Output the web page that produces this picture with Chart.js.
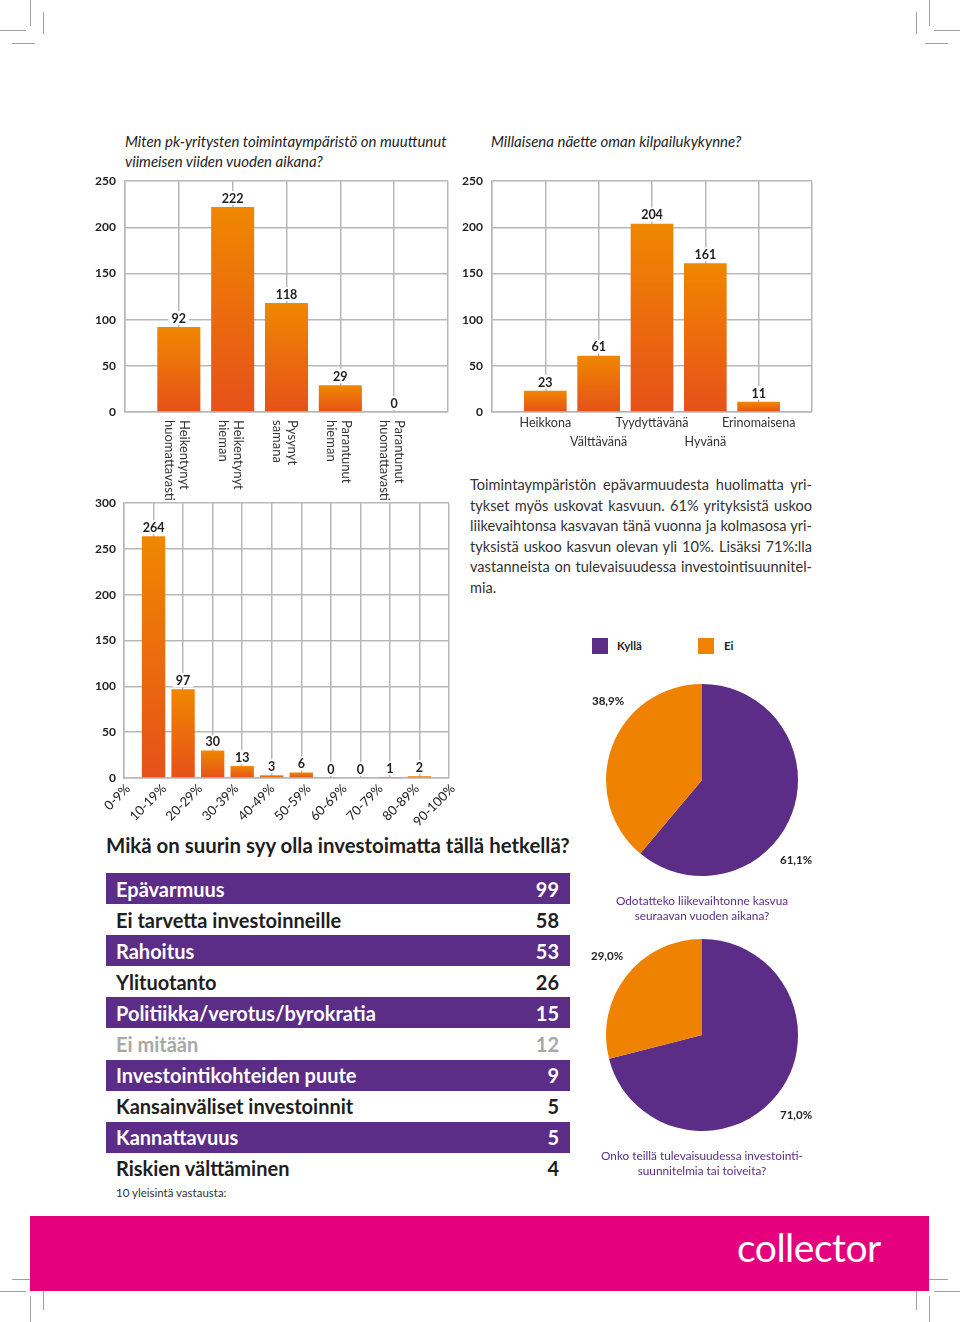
<!DOCTYPE html>
<html><head><meta charset="utf-8">
<script src="https://cdn.jsdelivr.net/npm/chart.js@4.4.1/dist/chart.umd.min.js"></script>
<style>
html,body{margin:0;padding:0}
body{width:960px;height:1322px;position:relative;background:#fff;font-family:Lato,"Noto Sans",sans-serif;color:#222;overflow:hidden}
.abs{position:absolute}
.cm{position:absolute;background:#a0a0a0}
.qtitle{position:absolute;font-style:italic;font-size:15px;line-height:20px;color:#1e1e1e}
.para{position:absolute;left:470px;top:475px;width:342px;font-size:14.6px;line-height:20.6px;color:#333}
.para span{display:block;text-align:justify;text-align-last:justify;white-space:nowrap}
.para span.last{text-align-last:left}
.pct{position:absolute;font-weight:bold;font-size:11.5px;color:#222;line-height:14px}
.cap{position:absolute;left:590px;width:224px;text-align:center;font-size:11.8px;line-height:15px;color:#5b2d86}
.leg{position:absolute;width:16px;height:16px}
.legt{position:absolute;font-weight:bold;font-size:11.5px;line-height:16px;color:#222}
#table{position:absolute;left:106px;top:873px;width:464px}
.row{height:31.1px;display:flex;align-items:center;justify-content:space-between;padding:0 11px 0 10px;font-weight:bold;font-size:20px;color:#1e1e1e;box-sizing:border-box}
.row.p{background:#5b2d86;color:#fff}
.row.g{color:#a8a8a8}
</style></head><body>

<!-- crop marks -->
<div class="cm" style="left:30px;top:0;width:1px;height:26px"></div>
<div class="cm" style="left:0;top:30px;width:26px;height:1px"></div>
<div class="cm" style="left:43px;top:12px;width:1px;height:22px"></div>
<div class="cm" style="left:12px;top:43px;width:23px;height:1px"></div>
<div class="cm" style="left:929px;top:0;width:1px;height:26px"></div>
<div class="cm" style="left:934px;top:30px;width:26px;height:1px"></div>
<div class="cm" style="left:916px;top:12px;width:1px;height:22px"></div>
<div class="cm" style="left:925px;top:43px;width:23px;height:1px"></div>
<div class="cm" style="left:30px;top:1296px;width:1px;height:26px"></div>
<div class="cm" style="left:0;top:1291px;width:26px;height:1px"></div>
<div class="cm" style="left:43px;top:1288px;width:1px;height:22px"></div>
<div class="cm" style="left:12px;top:1279px;width:23px;height:1px"></div>
<div class="cm" style="left:929px;top:1296px;width:1px;height:26px"></div>
<div class="cm" style="left:934px;top:1291px;width:26px;height:1px"></div>
<div class="cm" style="left:916px;top:1288px;width:1px;height:22px"></div>
<div class="cm" style="left:925px;top:1279px;width:23px;height:1px"></div>

<div class="qtitle" style="left:125px;top:131px">Miten pk-yritysten toimintaympäristö on muuttunut<br>viimeisen viiden vuoden aikana?</div>
<div class="qtitle" style="left:491px;top:131px">Millaisena näette oman kilpailukykynne?</div>

<div class="abs" style="left:60px;top:165px;width:400px;height:335px"><canvas id="c1"></canvas></div>
<div class="abs" style="left:430px;top:165px;width:400px;height:295px"><canvas id="c2"></canvas></div>
<div class="abs" style="left:60px;top:488px;width:410px;height:342px"><canvas id="c3"></canvas></div>

<div class="para">
<span>Toimintaympäristön epävarmuudesta huolimatta yri-</span>
<span>tykset myös uskovat kasvuun. 61% yrityksistä uskoo</span>
<span>liikevaihtonsa kasvavan tänä vuonna ja kolmasosa yri-</span>
<span>tyksistä uskoo kasvun olevan yli 10%. Lisäksi 71%:lla</span>
<span>vastanneista on tulevaisuudessa investointisuunnitel-</span>
<span class="last">mia.</span>
</div>

<div class="leg" style="left:592px;top:638px;background:#5b2d86"></div>
<div class="legt" id="leg1" style="left:617px;top:638px"></div>
<div class="leg" style="left:698px;top:638px;background:#ef8200"></div>
<div class="legt" id="leg2" style="left:724px;top:638px"></div>

<div class="abs" style="left:606px;top:684px;width:192px;height:192px"><canvas id="p1"></canvas></div>
<div class="pct" id="p1b" style="left:592px;top:694px"></div>
<div class="pct" id="p1a" style="left:780px;top:853px"></div>
<div class="cap" style="top:893px">Odotatteko liikevaihtonne kasvua<br>seuraavan vuoden aikana?</div>

<div class="abs" style="left:606px;top:939px;width:192px;height:192px"><canvas id="p2"></canvas></div>
<div class="pct" id="p2b" style="left:591px;top:949px"></div>
<div class="pct" id="p2a" style="left:780px;top:1108px"></div>
<div class="cap" style="top:1148px">Onko teillä tulevaisuudessa investointi-<br>suunnitelmia tai toiveita?</div>

<div class="abs" style="left:106px;top:833px;font-weight:bold;font-size:20.4px;line-height:24px;color:#1e1e1e">Mikä on suurin syy olla investoimatta tällä hetkellä?</div>
<div id="table"></div>
<div class="abs" style="left:116px;top:1186px;font-size:11.5px;line-height:14px;color:#333">10 yleisintä vastausta:</div>

<div class="abs" style="left:30px;top:1216px;width:899px;height:75px;background:#e5007e"></div>
<div class="abs" style="left:737px;top:1225px;font-size:39px;line-height:44px;color:#fff;letter-spacing:-0.5px">collector</div>

<script>
// ---------- data ----------
const changeCategories = [['Heikentynyt','huomattavasti'],['Heikentynyt','hieman'],['Pysynyt','samana'],['Parantunut','hieman'],['Parantunut','huomattavasti']];
const changeValues = [92, 222, 118, 29, 0];
const changeAxis = {max: 250, step: 50};

const compCategories = ['Heikkona','Välttävänä','Tyydyttävänä','Hyvänä','Erinomaisena'];
const compValues = [23, 61, 204, 161, 11];
const compAxis = {max: 250, step: 50};

const growthBins = ['0-9%','10-19%','20-29%','30-39%','40-49%','50-59%','60-69%','70-79%','80-89%','90-100%'];
const growthValues = [264, 97, 30, 13, 3, 6, 0, 0, 1, 2];
const growthAxis = {max: 300, step: 50};

const pieLabels = ['Kyllä','Ei'];
const growthExpectValues = [61.1, 38.9];
const investPlanValues = [71.0, 29.0];

const reasons = ['Epävarmuus','Ei tarvetta investoinneille','Rahoitus','Ylituotanto','Politiikka/verotus/byrokratia','Ei mitään','Investointikohteiden puute','Kansainväliset investoinnit','Kannattavuus','Riskien välttäminen'];
const reasonCounts = [99, 58, 53, 26, 15, 12, 9, 5, 5, 4];

// ---------- styles ----------
const PURPLE = '#5b2d86', ORANGE = '#ef8200', GRID = '#b8b8b8';
Chart.defaults.font.family = 'Lato, "Noto Sans", sans-serif';
Chart.defaults.animation = false;
Chart.defaults.plugins.legend.display = false;
Chart.defaults.plugins.tooltip.enabled = false;

function pad(arr, blank){ return [blank, ...arr, blank]; }

function barGradient(c){
  const chart = c.chart, y = chart.scales && chart.scales.y;
  if (!y || c.type !== 'data' || c.raw == null) return '#ec6a0c';
  const top = y.getPixelForValue(c.raw), bot = y.getPixelForValue(0);
  if (!isFinite(top) || !isFinite(bot) || bot - top < 1) return '#e85a14';
  const g = chart.ctx.createLinearGradient(0, top, 0, bot);
  g.addColorStop(0, '#f08700');
  g.addColorStop(1, '#e6511a');
  return g;
}

const valueLabels = {
  id: 'valueLabels',
  afterDatasetsDraw(chart){
    const ctx = chart.ctx;
    chart.data.datasets.forEach((ds, di) => {
      chart.getDatasetMeta(di).data.forEach((el, i) => {
        const v = ds.data[i];
        if (v == null) return;
        ctx.save();
        ctx.font = 'bold 12.5px Lato, "Noto Sans", sans-serif';
        const t = String(v), w = ctx.measureText(t).width;
        ctx.fillStyle = '#fff';
        ctx.fillRect(el.x - w/2 - 3, el.y - 16, w + 6, 14);
        ctx.fillStyle = '#1e1e1e';
        ctx.textAlign = 'center';
        ctx.textBaseline = 'bottom';
        ctx.fillText(t, el.x, el.y - 2);
        ctx.restore();
      });
    });
  }
};

const verticalLabels = {
  id: 'vlabels',
  afterDraw(chart, args, opts){
    const lines = opts && opts.lines;
    if (!lines) return;
    const ctx = chart.ctx, xs = chart.scales.x, area = chart.chartArea;
    ctx.save();
    ctx.font = '13px Lato, "Noto Sans", sans-serif';
    ctx.fillStyle = '#333';
    ctx.textAlign = 'left';
    ctx.textBaseline = 'middle';
    lines.forEach((ls, i) => {
      const x = xs.getPixelForValue(i + 1) - 2, y = area.bottom + 8;
      ctx.save();
      ctx.translate(x, y);
      ctx.rotate(Math.PI / 2);
      ls.forEach((t, j) => ctx.fillText(t, 0, (j - (ls.length - 1) / 2) * 15));
      ctx.restore();
    });
    ctx.restore();
  }
};

function yScale(axis, width, padding){
  return {
    min: 0, max: axis.max,
    ticks: {stepSize: axis.step, padding: padding, color: '#1e1e1e', font: {weight: 'bold', size: 12}},
    grid: {color: GRID, lineWidth: 1.5, drawTicks: false},
    border: {color: GRID, width: 1.5},
    afterFit(s){ s.width = width; }
  };
}

function xBase(height, ticks){
  return {
    offset: false,
    grid: {offset: false, color: GRID, lineWidth: 1.5, drawTicks: false},
    border: {color: GRID, width: 1.5},
    ticks: ticks || {display: false},
    afterFit(s){ s.height = height; }
  };
}

// Chart 1
new Chart(document.getElementById('c1'), {
  type: 'bar',
  data: {
    labels: pad(changeCategories.map(c => c.join(' ')), ''),
    datasets: [{data: pad(changeValues, null), backgroundColor: barGradient, categoryPercentage: 1, barPercentage: 0.8}]
  },
  options: {
    responsive: true, maintainAspectRatio: false,
    layout: {padding: {top: 5, right: 12, left: 0, bottom: 0}},
    scales: {x: xBase(88), y: yScale(changeAxis, 65, 9)},
    plugins: {vlabels: {lines: changeCategories}}
  },
  plugins: [valueLabels, verticalLabels]
});

// Chart 2
new Chart(document.getElementById('c2'), {
  type: 'bar',
  data: {
    labels: pad(compCategories.map((c, i) => i % 2 ? ['', c] : c), ''),
    datasets: [{data: pad(compValues, null), backgroundColor: barGradient, categoryPercentage: 1, barPercentage: 0.8}]
  },
  options: {
    responsive: true, maintainAspectRatio: false,
    layout: {padding: {top: 5, right: 18, left: 0, bottom: 0}},
    scales: {
      x: xBase(48, {autoSkip: false, maxRotation: 0, minRotation: 0, padding: 1, color: '#333', font: {size: 12.5, lineHeight: 1.55}}),
      y: yScale(compAxis, 62, 9)
    }
  },
  plugins: [valueLabels]
});

// Chart 3
new Chart(document.getElementById('c3'), {
  type: 'bar',
  data: {
    labels: pad(growthBins, ''),
    datasets: [{data: pad(growthValues, null), backgroundColor: barGradient, categoryPercentage: 1, barPercentage: 0.79}]
  },
  options: {
    responsive: true, maintainAspectRatio: false,
    layout: {padding: {top: 12, right: 21, left: 0, bottom: 0}},
    scales: {
      x: xBase(0),
      x2: {
        type: 'category', labels: growthBins, position: 'bottom', offset: false,
        grid: {display: false, drawTicks: false}, border: {display: false},
        ticks: {autoSkip: false, minRotation: 45, maxRotation: 45, padding: 3, labelOffset: 4, color: '#222', font: {size: 13}},
        afterFit(s){ s.height = 52; }
      },
      y: yScale(growthAxis, 64, 8)
    }
  },
  plugins: [valueLabels]
});

// Pies
function pie(id, values){
  new Chart(document.getElementById(id), {
    type: 'pie',
    data: {labels: pieLabels, datasets: [{data: values, backgroundColor: [PURPLE, ORANGE], borderWidth: 0}]},
    options: {responsive: true, maintainAspectRatio: false, layout: {padding: 0}}
  });
}
pie('p1', growthExpectValues);
pie('p2', investPlanValues);
const fmt = v => v.toFixed(1).replace('.', ',') + '%';
document.getElementById('p1a').textContent = fmt(growthExpectValues[0]);
document.getElementById('p1b').textContent = fmt(growthExpectValues[1]);
document.getElementById('p2a').textContent = fmt(investPlanValues[0]);
document.getElementById('p2b').textContent = fmt(investPlanValues[1]);
document.getElementById('leg1').textContent = pieLabels[0];
document.getElementById('leg2').textContent = pieLabels[1];

// Table
const tbl = document.getElementById('table');
reasons.forEach((r, i) => {
  const row = document.createElement('div');
  row.className = 'row' + (i % 2 === 0 ? ' p' : '') + (r === 'Ei mitään' ? ' g' : '');
  const a = document.createElement('span'); a.textContent = r;
  const b = document.createElement('span'); b.textContent = reasonCounts[i];
  row.appendChild(a); row.appendChild(b);
  tbl.appendChild(row);
});
</script>
</body></html>
